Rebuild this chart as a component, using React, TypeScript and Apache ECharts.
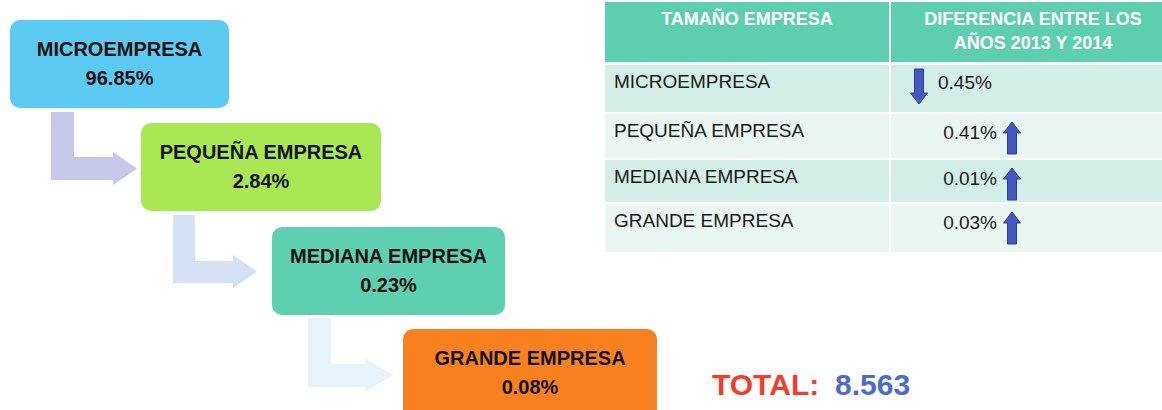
import React, { useEffect, useRef } from "react";
import * as echarts from "echarts";

// ---- data ----
const sizeNames = ["MICROEMPRESA", "PEQUEÑA EMPRESA", "MEDIANA EMPRESA", "GRANDE EMPRESA"];
const sizeShares = [96.85, 2.84, 0.23, 0.08];
const diffValues = [0.45, 0.41, 0.01, 0.03];
const diffDirections = ["down", "up", "up", "up"];
const tableHeaders = ["TAMAÑO EMPRESA", "DIFERENCIA ENTRE LOS\nAÑOS 2013 Y 2014"];
const totalLabel = "TOTAL:";
const totalValue = "8.563";

// ---- layout / style ----
const FONT = "'Liberation Sans', Arial, Helvetica, sans-serif";
const boxLayout = [
  { x: 10, y: 20, w: 219, h: 88 },
  { x: 141, y: 123, w: 240, h: 88 },
  { x: 272, y: 227, w: 233, h: 88 },
  { x: 403, y: 329, w: 254, h: 100 },
];
const boxColors = ["#5ccbf3", "#a9e852", "#5dd0b1", "#f9801f"];
const connectorLayout = [
  { vx: 51, top: 112, bottom: 180, w: 23, hx: 113, tx: 137, h1: 152, h2: 185, color: "#c5c8ea" },
  { vx: 173, top: 215, bottom: 283, w: 22, hx: 233, tx: 257, h1: 255, h2: 288, color: "#d4e0f3" },
  { vx: 308, top: 318, bottom: 387, w: 23, hx: 365, tx: 393, h1: 358, h2: 392, color: "#e6f3fb" },
];
const tableX = 605;
const colSplit = 889;
const tableRight = 1175;
const headerTop = 2;
const headerBottom = 62;
const rowTops = [65, 114, 160, 204];
const rowBottoms = [112, 158, 202, 252];
const rowColors = ["#d3eee6", "#eaf6f2", "#d3eee6", "#eaf6f2"];
const headerColor = "#5dcfb0";
const arrowFill = "#4659c2";
const arrowStroke = "#2e3f90";

function connectorPoints(c: any) {
  const yTopBar = c.bottom - c.w;
  const cy = (c.h1 + c.h2) / 2;
  return [
    [c.vx, c.top],
    [c.vx + c.w, c.top],
    [c.vx + c.w, yTopBar],
    [c.hx, yTopBar],
    [c.hx, c.h1],
    [c.tx, cy],
    [c.hx, c.h2],
    [c.hx, c.bottom],
    [c.vx, c.bottom],
  ];
}

function blockArrow(cx: number, y0: number, y1: number, dir: string) {
  const sw = 4.5;
  const hw = 8.5;
  const hh = 11;
  if (dir === "up") {
    return [
      [cx, y0],
      [cx + hw, y0 + hh],
      [cx + sw, y0 + hh],
      [cx + sw, y1],
      [cx - sw, y1],
      [cx - sw, y0 + hh],
      [cx - hw, y0 + hh],
    ];
  }
  return [
    [cx, y1],
    [cx + hw, y1 - hh],
    [cx + sw, y1 - hh],
    [cx + sw, y0],
    [cx - sw, y0],
    [cx - sw, y1 - hh],
    [cx - hw, y1 - hh],
  ];
}

export default function App() {
  const ref = useRef<HTMLDivElement>(null);

  useEffect(() => {
    document.body.style.margin = "0";
    if (!ref.current) return;
    const chart = echarts.init(ref.current, undefined, { renderer: "svg" });
    const elements: any[] = [];

    // connectors
    connectorLayout.forEach((c) => {
      elements.push({
        type: "polygon",
        shape: { points: connectorPoints(c) },
        style: { fill: c.color },
      });
    });

    // boxes
    sizeNames.forEach((name, i) => {
      const b = boxLayout[i];
      elements.push({
        type: "rect",
        shape: { x: b.x, y: b.y, width: b.w, height: b.h, r: 10 },
        style: { fill: boxColors[i] },
      });
      elements.push({
        type: "text",
        x: b.x + b.w / 2,
        y: b.y + 29,
        style: {
          text: name,
          fill: "#111",
          font: `bold 20px ${FONT}`,
          textAlign: "center",
          textVerticalAlign: "middle",
        },
      });
      elements.push({
        type: "text",
        x: b.x + b.w / 2,
        y: b.y + 58,
        style: {
          text: sizeShares[i].toFixed(2) + "%",
          fill: "#111",
          font: `bold 20px ${FONT}`,
          textAlign: "center",
          textVerticalAlign: "middle",
        },
      });
    });

    // table header
    elements.push({
      type: "rect",
      shape: { x: tableX, y: headerTop, width: colSplit - tableX, height: headerBottom - headerTop },
      style: { fill: headerColor },
    });
    elements.push({
      type: "rect",
      shape: { x: colSplit + 2, y: headerTop, width: tableRight - colSplit - 2, height: headerBottom - headerTop },
      style: { fill: headerColor },
    });
    elements.push({
      type: "text",
      x: (tableX + colSplit) / 2,
      y: 19,
      style: {
        text: tableHeaders[0],
        fill: "#ffffff",
        font: `bold 18px ${FONT}`,
        textAlign: "center",
        textVerticalAlign: "middle",
      },
    });
    tableHeaders[1].split("\n").forEach((line, k) => {
      elements.push({
        type: "text",
        x: (colSplit + 2 + tableRight) / 2,
        y: 19 + k * 24,
        style: {
          text: line,
          fill: "#ffffff",
          font: `bold 18px ${FONT}`,
          textAlign: "center",
          textVerticalAlign: "middle",
        },
      });
    });

    // table rows
    sizeNames.forEach((name, i) => {
      const t = rowTops[i];
      const bt = rowBottoms[i];
      elements.push({
        type: "rect",
        shape: { x: tableX, y: t, width: colSplit - tableX, height: bt - t },
        style: { fill: rowColors[i] },
      });
      elements.push({
        type: "rect",
        shape: { x: colSplit + 2, y: t, width: tableRight - colSplit - 2, height: bt - t },
        style: { fill: rowColors[i] },
      });
      elements.push({
        type: "text",
        x: 614,
        y: t + 16,
        style: {
          text: name,
          fill: "#1a1a1a",
          font: `19px ${FONT}`,
          textAlign: "left",
          textVerticalAlign: "middle",
        },
      });
      const dir = diffDirections[i];
      const label = diffValues[i].toFixed(2) + "%";
      if (dir === "down") {
        elements.push({
          type: "text",
          x: 938,
          y: t + 17,
          style: {
            text: label,
            fill: "#1a1a1a",
            font: `19px ${FONT}`,
            textAlign: "left",
            textVerticalAlign: "middle",
          },
        });
        elements.push({
          type: "polygon",
          shape: { points: blockArrow(919, t + 4, t + 39, "down") },
          style: { fill: arrowFill, stroke: arrowStroke, lineWidth: 1 },
        });
      } else {
        elements.push({
          type: "text",
          x: 997,
          y: t + 18,
          style: {
            text: label,
            fill: "#1a1a1a",
            font: `19px ${FONT}`,
            textAlign: "right",
            textVerticalAlign: "middle",
          },
        });
        elements.push({
          type: "polygon",
          shape: { points: blockArrow(1012, t + 8, t + 40, "up") },
          style: { fill: arrowFill, stroke: arrowStroke, lineWidth: 1 },
        });
      }
    });

    // total
    elements.push({
      type: "text",
      x: 712,
      y: 384,
      style: {
        text: totalLabel,
        fill: "#f23d2b",
        font: `bold 30px ${FONT}`,
        textAlign: "left",
        textVerticalAlign: "middle",
      },
    });
    elements.push({
      type: "text",
      x: 835,
      y: 384,
      style: {
        text: totalValue,
        fill: "#4c6bd0",
        font: `bold 30px ${FONT}`,
        textAlign: "left",
        textVerticalAlign: "middle",
      },
    });

    chart.setOption({
      animation: false,
      backgroundColor: "#ffffff",
      graphic: { elements },
    });
    return () => chart.dispose();
  }, []);

  return <div ref={ref} style={{ width: 1162, height: 410 }} />;
}
